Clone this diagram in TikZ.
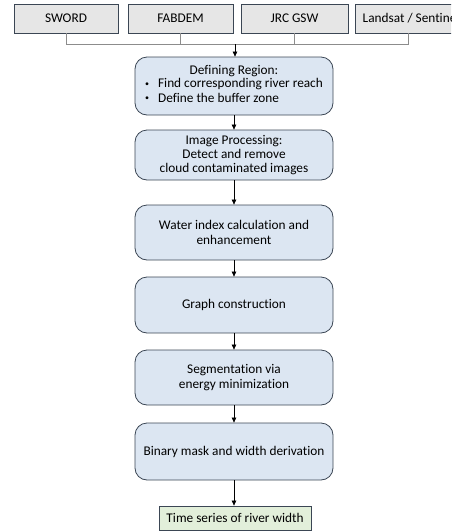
\documentclass[tikz,border=0pt]{standalone}
\usepackage{fontspec}
\setmainfont{Carlito}[Ligatures=NoCommon]
\usetikzlibrary{arrows.meta}
\definecolor{stepfill}{HTML}{DCE6F2}
\definecolor{stepline}{HTML}{3B4654}
\definecolor{srcfill}{HTML}{E6E6E6}
\definecolor{outfill}{HTML}{E2EFDA}
\definecolor{linkgray}{HTML}{8C8C8C}
\newcommand{\smallbullet}{\raisebox{1.2pt}{\fontsize{8}{8}\selectfont\textbullet}\hspace{9pt}}
\tikzset{
  boxfont/.style={font=\fontsize{13.3}{14.2}\selectfont},
  stepbox/.style={draw=stepline, line width=0.8pt, fill=stepfill, rounded corners=12pt,
    minimum width=198pt, align=center, boxfont, inner sep=2pt},
  srcbox/.style={draw=stepline, line width=0.8pt, fill=srcfill, minimum height=29pt,
    boxfont, inner sep=2pt},
  outbox/.style={draw=stepline, line width=0.8pt, fill=outfill, minimum width=152pt,
    minimum height=24pt, boxfont, inner sep=2pt},
  flow/.style={draw=black, line width=0.6pt, -{Triangle[length=5pt,width=4.5pt]}},
  feed/.style={draw=linkgray, line width=0.8pt}
}
\begin{document}
\begin{tikzpicture}[x=1pt,y=-1pt]
\useasboundingbox (0,0) rectangle (451,531);
\begin{scope}
\clip (0,0) rectangle (451,531);
% data sources
\node[srcbox, minimum width=104pt] (sword) at (66,18.5) {SWORD};
\node[srcbox, minimum width=105pt] (fabdem) at (180.5,18.5) {FABDEM};
\node[srcbox, minimum width=107pt] (jrc) at (294.5,18.5) {JRC GSW};
\node[srcbox, minimum width=107pt] (sat) at (408.5,18.5) {};
\node[anchor=west, boxfont, inner sep=0pt] (satlabel) at (362.5,18.5) {Landsat / Sentinel};
\coordinate (join) at (235,44);
\draw[feed] (sword.south) |- (join);
\draw[feed] (fabdem.south) |- (join);
\draw[feed] (jrc.south) |- (join);
\draw[feed] (sat.south) |- (join);
% processing chain
\node[stepbox, minimum height=58pt] (region) at (234,86) {Defining Region:\\
  \begin{tabular}{@{}l@{}}\smallbullet Find corresponding river reach\\
  \smallbullet Define the buffer zone\end{tabular}};
\node[stepbox, minimum height=50pt] (clouds) at (234,155) {Image Processing:\\Detect and remove\\cloud contaminated images};
\node[stepbox, minimum height=55pt] (index) at (234,232.5) {Water index calculation and\\enhancement};
\node[stepbox, minimum height=56pt] (graph) at (234,305) {Graph construction};
\node[stepbox, minimum height=55pt] (seg) at (234,377.5) {Segmentation via\\energy minimization};
\node[stepbox, minimum height=57pt] (mask) at (234,451.5) {Binary mask and width derivation};
\node[outbox] (width) at (235,518) {Time series of river width};
\draw[flow] (join) -- (join |- region.north);
\draw[flow] (region) -- (clouds);
\draw[flow] (clouds) -- (index);
\draw[flow] (index) -- (graph);
\draw[flow] (graph) -- (seg);
\draw[flow] (seg) -- (mask);
\draw[flow] (mask) -- (mask.south |- width.north);
\end{scope}
\end{tikzpicture}
\end{document}
